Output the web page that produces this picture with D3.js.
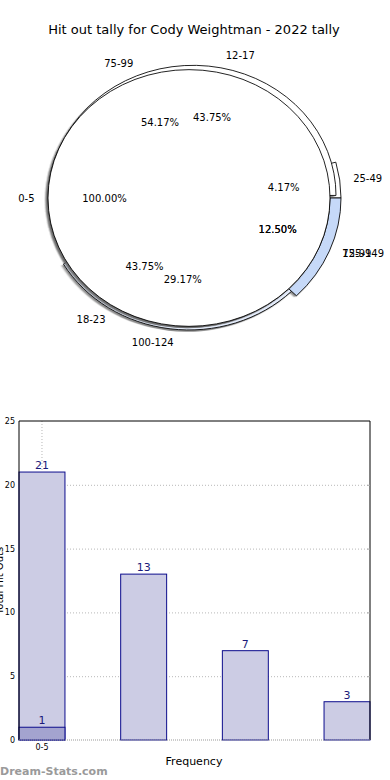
<!DOCTYPE html>
<html>
<head>
<meta charset="utf-8">
<script src="https://cdn.jsdelivr.net/npm/d3@7"></script>
<style>
  body { margin: 0; background: #fff; }
  svg { display: block; font-family: "DejaVu Sans", sans-serif; }
</style>
</head>
<body>
<script>
// chart data
var title = "Hit out tally for Cody Weightman - 2022 tally";

// pies are drawn on top of each other (as on the source page)
var pieLabelsA = ["25-49", "75-99", "100-124", "125-149"];
var pieValuesA = [4.17, 54.17, 29.17, 12.50];
var pieLabelsB = ["12-17", "18-23", "75-99"];
var pieValuesB = [43.75, 43.75, 12.50];
var pieLabelsC = ["0-5"];
var pieValuesC = [100.00];

var barCategories = ["0-5", "6-11", "12-17", "18-23"];
var barValues = [21, 13, 7, 3];
var barOverlay = [1, 0, 0, 0];
var yTicks = [0, 5, 10, 15, 20, 25];

window.onload = drawChart();

function drawChart(){
    var width = 390, height = 780;

    var svg = d3.select("body").append("svg")
        .attr("width", width)
        .attr("height", height);

    var defs = svg.append("defs");
    defs.append("filter").attr("id", "blur")
        .append("feGaussianBlur").attr("stdDeviation", 0.8);

    svg.append("text")
        .attr("x", 194).attr("y", 34)
        .attr("text-anchor", "middle")
        .style("font-size", "13px")
        .text(title);

    //---- pie part ----
    var cx = 189, cy = 198, squash = 0.91;
    var textCx = 194.5, labelDist = 160, pctDist = 90;

    //wedge look: radius, shift, fill
    var pies = [
        {labels: pieLabelsA, values: pieValuesA,
         wedge: {"25-49": {r: 152, fill: "#fff"}, "75-99": {r: 141, fill: "#fff"},
                 "100-124": {r: 145, fill: "#e4ecfb"}, "125-149": {r: 152, fill: "#c6d9f8"}}},
        {labels: pieLabelsB, values: pieValuesB,
         wedge: {"12-17": {r: 143, dx: 4, dy: -2.8, fill: "#fff"}, "18-23": {r: 141, fill: "#fff"}, "75-99": {r: 141, fill: "#fff"}}},
        {labels: pieLabelsC, values: pieValuesC,
         wedge: {"0-5": {r: 141, fill: "#fff"}}}
    ];

    var pie = d3.pie()
        .sort(null)
        .value(function(d){ return d.value; })
        .startAngle(Math.PI / 2)
        .endAngle(Math.PI / 2 - 2 * Math.PI);

    var pieG = svg.append("g")
        .attr("transform", "translate(" + cx + "," + cy + ") scale(1," + squash + ")");

    var labelLayer = svg.append("g").style("font-size", "10px");

    pies.forEach(function(p){
        var data = p.labels.map(function(l, i){ return {label: l, value: p.values[i]}; });
        var arcs = pie(data);
        var arcFor = function(d){
            return d3.arc().innerRadius(0).outerRadius(p.wedge[d.data.label].r)(d);
        };
        var shift = function(d){
            var w = p.wedge[d.data.label];
            return "translate(" + (w.dx || 0) + "," + (w.dy || 0) + ")";
        };

        //shadow
        pieG.append("g")
            .attr("transform", "translate(-1.8,2)")
            .attr("filter", "url(#blur)")
            .attr("opacity", 0.75)
            .selectAll("path")
            .data(arcs).enter()
            .append("path")
            .attr("transform", shift)
            .attr("d", arcFor)
            .attr("fill", "#666");

        pieG.append("g")
            .selectAll("path")
            .data(arcs).enter()
            .append("path")
            .attr("transform", shift)
            .attr("d", arcFor)
            .attr("fill", function(d){ return p.wedge[d.data.label].fill; })
            .attr("stroke", "#000")
            .attr("stroke-width", 0.9)
            .attr("stroke-linejoin", "round");

        arcs.forEach(function(d){
            var mid = (d.startAngle + d.endAngle) / 2;
            var sx = Math.sin(mid), sy = -Math.cos(mid) * squash;
            labelLayer.append("text")
                .attr("x", textCx + sx * labelDist)
                .attr("y", cy + sy * labelDist)
                .attr("dy", "0.35em")
                .attr("text-anchor", sx > 0 ? "start" : "end")
                .text(d.data.label);
            labelLayer.append("text")
                .attr("x", textCx + sx * pctDist)
                .attr("y", cy + sy * pctDist)
                .attr("dy", "0.35em")
                .attr("text-anchor", "middle")
                .text(d.data.value.toFixed(2) + "%");
        });
    });
    labelLayer.raise();

    //---- bar part ----
    var left = 19, right = 370, top = 421, bottom = 740;

    var x = d3.scaleBand()
        .domain(barCategories)
        .range([left, right])
        .paddingInner(0.548)
        .paddingOuter(0);

    var y = d3.scaleLinear()
        .domain([0, 25])
        .range([bottom, top]);

    //grid lines
    svg.append("g")
        .attr("transform", "translate(" + left + ",0)")
        .call(d3.axisLeft(y).tickValues(yTicks.slice(1, 5)).tickSize(-(right - left)).tickFormat(""))
        .call(function(g){ g.select(".domain").remove(); })
        .selectAll("line")
        .attr("stroke", "#b8b8b8")
        .attr("stroke-dasharray", "1,2");

    svg.append("line")
        .attr("x1", x("0-5") + x.bandwidth() / 2)
        .attr("x2", x("0-5") + x.bandwidth() / 2)
        .attr("y1", top).attr("y2", bottom)
        .attr("stroke", "#b8b8b8")
        .attr("stroke-dasharray", "1,2");

    //bars
    svg.append("g").selectAll("rect")
        .data(barValues).enter()
        .append("rect")
        .attr("x", function(d, i){ return x(barCategories[i]); })
        .attr("y", function(d){ return y(d); })
        .attr("width", x.bandwidth())
        .attr("height", function(d){ return y(0) - y(d); })
        .attr("fill", "#ccccE4")
        .attr("stroke", "#0c0c8c")
        .attr("stroke-width", 1);

    svg.append("g").selectAll("rect")
        .data(barOverlay.filter(function(d){ return d > 0; })).enter()
        .append("rect")
        .attr("x", function(d, i){ return x(barCategories[i]); })
        .attr("y", function(d){ return y(d); })
        .attr("width", x.bandwidth())
        .attr("height", function(d){ return y(0) - y(d); })
        .attr("fill", "#a3a3cf")
        .attr("stroke", "#0c0c8c")
        .attr("stroke-width", 1);

    //bar value labels
    var barLabels = svg.append("g")
        .style("font-size", "11px")
        .attr("fill", "#1a1a7a")
        .attr("text-anchor", "middle");
    barValues.forEach(function(v, i){
        barLabels.append("text")
            .attr("x", x(barCategories[i]) + x.bandwidth() / 2)
            .attr("y", y(v) - 3)
            .text(v);
    });
    barOverlay.forEach(function(v, i){
        if (v > 0) {
            barLabels.append("text")
                .attr("x", x(barCategories[i]) + x.bandwidth() / 2)
                .attr("y", y(v) - 3)
                .text(v);
        }
    });

    //frame
    svg.append("path")
        .attr("d", "M" + left + "," + bottom + "V" + top + "H" + right + "V" + bottom)
        .attr("fill", "none")
        .attr("stroke", "#000")
        .attr("stroke-width", 1);
    svg.append("line")
        .attr("x1", left).attr("x2", right)
        .attr("y1", bottom).attr("y2", bottom)
        .attr("stroke", "#999")
        .attr("stroke-dasharray", "1,1");

    //y axis
    var yAxis = svg.append("g")
        .attr("transform", "translate(" + left + ",0)")
        .call(d3.axisLeft(y).tickValues(yTicks).tickSize(0).tickPadding(4));
    yAxis.select(".domain").remove();
    yAxis.selectAll("text").style("font-size", "8px").style("font-family", "DejaVu Sans");

    //right side little ticks
    svg.append("g")
        .attr("transform", "translate(" + right + ",0)")
        .call(d3.axisRight(y).tickValues(yTicks.slice(1, 5)).tickSize(-3).tickFormat(""))
        .call(function(g){ g.select(".domain").remove(); })
        .selectAll("line").attr("stroke", "#aaa");

    //x axis (only first label is shown)
    var xAxis = svg.append("g")
        .attr("transform", "translate(0," + bottom + ")")
        .call(d3.axisBottom(x).tickValues(["0-5"]).tickSize(0).tickPadding(4));
    xAxis.select(".domain").remove();
    xAxis.selectAll("text").style("font-size", "8px").style("font-family", "DejaVu Sans");

    svg.append("text")
        .attr("x", 194).attr("y", 765)
        .attr("text-anchor", "middle")
        .style("font-size", "11px")
        .text("Frequency");

    //axis title, mostly off the left edge like the source
    svg.append("text")
        .attr("transform", "translate(3," + ((top + bottom) / 2) + ") rotate(-90)")
        .attr("text-anchor", "middle")
        .style("font-size", "10px")
        .text("Total Hit Outs");

    svg.append("text")
        .attr("x", 0).attr("y", 775)
        .style("font-size", "11px")
        .style("font-weight", "bold")
        .attr("fill", "#9a9a9a")
        .text("Dream-Stats.com");
};
</script>
</body>
</html>
